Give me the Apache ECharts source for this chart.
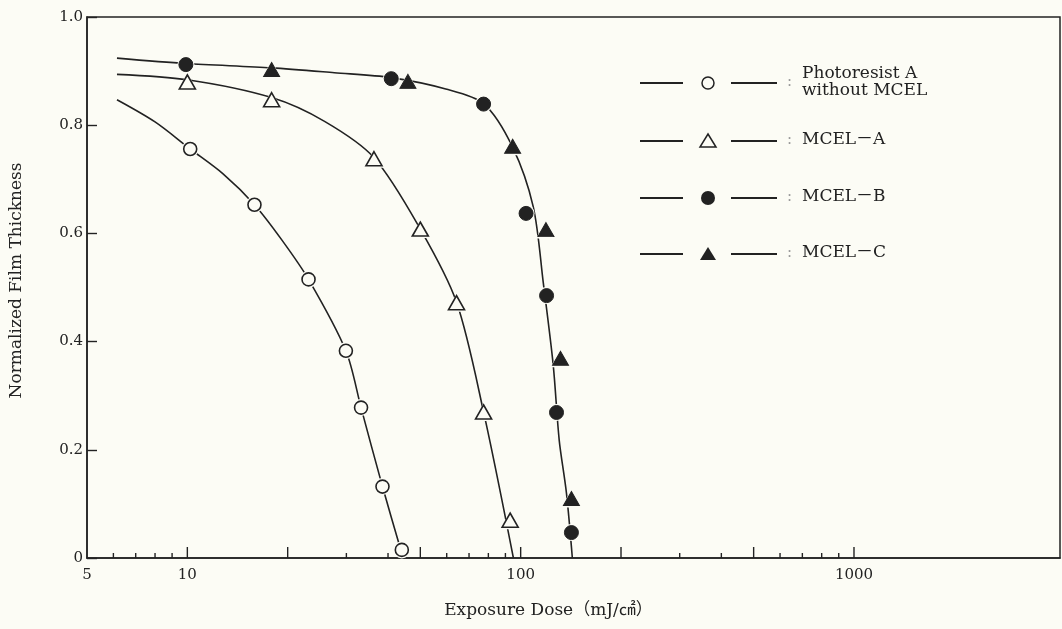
<!DOCTYPE html>
<html>
<head>
<meta charset="utf-8">
<title>Normalized Film Thickness vs Exposure Dose</title>
<script src="https://cdn.jsdelivr.net/npm/echarts@6/dist/echarts.min.js"></script>
<style>
  html, body { margin: 0; padding: 0; background: #fcfcf5; }
  #chart { width: 1062px; height: 629px; }
</style>
</head>
<body>
<div id="chart"></div>
<script>
// Series names as shown in the key
const seriesNames = ['Photoresist A\nwithout MCEL', 'MCEL－A', 'MCEL－B', 'MCEL－C'];

// Measured points: [exposure dose (mJ/cm2), normalized film thickness]
const resistA = [[10.2, 0.756], [15.9, 0.653], [23.1, 0.515], [29.9, 0.383], [33.2, 0.278], [38.5, 0.132], [44.0, 0.015]];
const mcelA   = [[10.0, 0.880], [17.9, 0.847], [36.3, 0.738], [50.0, 0.608], [64.2, 0.472], [77.4, 0.270], [93.0, 0.070]];
const mcelB   = [[9.9, 0.912], [40.9, 0.886], [77.4, 0.839], [103.8, 0.637], [119.6, 0.485], [128.1, 0.269], [142.0, 0.047]];
const mcelC   = [[17.9, 0.903], [45.9, 0.881], [94.6, 0.761], [119.1, 0.607], [131.7, 0.369], [142.0, 0.110]];

// Drawn characteristic curves
const curveResistA = [[6.15, 0.847], [8.0, 0.806], [10.2, 0.756], [12.8, 0.710], [15.9, 0.653], [19.2, 0.588], [23.1, 0.515],
                      [29.9, 0.383], [33.2, 0.278], [38.5, 0.132], [44.4, 0]];
const curveMcelA   = [[6.15, 0.894], [10.0, 0.884], [17.9, 0.851], [25.8, 0.807], [36.3, 0.740], [50.0, 0.608], [64.2, 0.473],
                      [77.4, 0.270], [95.1, 0]];
const curveMcelBC  = [[6.15, 0.924], [9.9, 0.914], [17.9, 0.906], [27.6, 0.897], [40.8, 0.888], [59.6, 0.867], [77.4, 0.840],
                      [94.5, 0.760], [109.1, 0.649], [116.9, 0.509], [125.2, 0.357], [130.5, 0.218], [137.2, 0.120], [142.9, 0]];

// Axis ticks and labels
const xTickLabels = [5, 10, 100, 1000];
const xMajorTicks = [10, 20, 50, 100, 200, 500, 1000];
const xMinorTicks = [6, 7, 8, 9, 30, 40, 60, 70, 80, 90, 300, 400, 600, 700, 800, 900];
const yTickLabels = ['0', '0.2', '0.4', '0.6', '0.8', '1.0'];

const INK = '#222222';
const BG = '#fcfcf5';
const FONT = '"DejaVu Serif", "Liberation Serif", "Noto Sans CJK JP", serif';

const chart = echarts.init(document.getElementById('chart'), null, { renderer: 'canvas' });

function curve(data) {
  return {
    type: 'line', data: data, smooth: 0.3, showSymbol: false, symbol: 'none',
    lineStyle: { color: INK, width: 1.6 }, silent: true, z: 2
  };
}
function halo(data, symbol, size) {
  return {
    type: 'scatter', data: data, symbol: symbol, symbolSize: size, clip: false, silent: true,
    itemStyle: { color: BG, borderWidth: 0, opacity: 1 }, z: 3
  };
}
function marks(name, data, symbol, size, filled) {
  return {
    name: name, type: 'scatter', data: data, symbol: symbol, symbolSize: size, clip: false, silent: true,
    itemStyle: filled ? { color: INK, borderColor: INK, borderWidth: 1, opacity: 1 }
                      : { color: BG, borderColor: INK, borderWidth: 1.6, opacity: 1 },
    z: 4
  };
}
function ticks(values, len) {
  return {
    type: 'scatter', data: values.map(v => [v, 0]), symbol: 'rect', symbolSize: [1.4, len],
    symbolOffset: [0, -len / 2], clip: false, silent: true, itemStyle: { color: INK, opacity: 1 }, z: 5
  };
}

// Key: line — symbol — line : text
function keySymbol(kind, cx, cy) {
  if (kind === 'openCircle' || kind === 'circle') {
    return { type: 'circle', shape: { cx: cx, cy: cy, r: kind === 'circle' ? 7 : 6 },
             style: kind === 'circle' ? { fill: INK } : { fill: BG, stroke: INK, lineWidth: 1.5 } };
  }
  return { type: 'polygon', shape: { points: [[cx, cy - 7], [cx + 8, cy + 6], [cx - 8, cy + 6]] },
           style: kind === 'triangle' ? { fill: INK } : { fill: BG, stroke: INK, lineWidth: 1.5 } };
}
const keyRows = [
  { name: seriesNames[0], kind: 'openCircle', y: 83 },
  { name: seriesNames[1], kind: 'openTriangle', y: 141 },
  { name: seriesNames[2], kind: 'circle', y: 198 },
  { name: seriesNames[3], kind: 'triangle', y: 254 }
];
const keyGraphics = [];
keyRows.forEach(r => {
  keyGraphics.push({ type: 'line', shape: { x1: 640, y1: r.y, x2: 683, y2: r.y }, style: { stroke: INK, lineWidth: 1.8 } });
  keyGraphics.push(keySymbol(r.kind, 708, r.y));
  keyGraphics.push({ type: 'line', shape: { x1: 731, y1: r.y, x2: 777, y2: r.y }, style: { stroke: INK, lineWidth: 1.8 } });
  keyGraphics.push({ type: 'text', x: 787, y: r.y - 1, style: { text: ':', fill: '#999', font: '15px ' + FONT, verticalAlign: 'middle' } });
  keyGraphics.push({ type: 'text', x: 802, y: r.y - 1, style: { text: r.name, fill: INK, font: '17px ' + FONT,
                     verticalAlign: 'middle', lineHeight: 17 } });
});

chart.setOption({
  backgroundColor: BG,
  animation: false,
  textStyle: { fontFamily: FONT },
  grid: { left: 83, right: 2, top: 17, bottom: 71, show: true, borderColor: INK, borderWidth: 1.5, containLabel: false },
  xAxis: {
    type: 'log', logBase: 10, min: 5, max: 4150,
    name: 'Exposure Dose（mJ/㎠）', nameLocation: 'middle', nameGap: 44,
    nameTextStyle: { color: INK, fontSize: 17, fontFamily: FONT, padding: [0, 50, 0, 0] },
    axisLine: { show: true, lineStyle: { color: INK, width: 1.5 } },
    axisTick: { show: false },
    splitLine: { show: false },
    axisLabel: {
      color: INK, fontSize: 15, fontFamily: FONT, margin: 10, showMinLabel: true, showMaxLabel: false,
      formatter: v => (xTickLabels.some(t => Math.abs(t - v) < 1e-6 * t) ? String(Math.round(v)) : '')
    }
  },
  yAxis: {
    type: 'value', min: 0, max: 1, interval: 0.2,
    name: 'Normalized Film Thickness', nameLocation: 'middle', nameGap: 62,
    nameTextStyle: { color: INK, fontSize: 17, fontFamily: FONT, padding: [0, 0, 0, 14] },
    axisLine: { show: true, lineStyle: { color: INK, width: 1.5 } },
    axisTick: { show: true, inside: true, length: 10, lineStyle: { color: INK, width: 1.4 } },
    splitLine: { show: false },
    axisLabel: { color: INK, fontSize: 15, fontFamily: FONT, margin: 4,
                 formatter: v => yTickLabels[Math.round(v * 5)] }
  },
  graphic: keyGraphics,
  series: [
    curve(curveResistA),
    curve(curveMcelA),
    curve(curveMcelBC),
    halo(resistA, 'circle', 17),
    halo(mcelA, 'triangle', [20, 18]),
    halo(mcelB, 'circle', 17),
    halo(mcelC, 'triangle', [20, 18]),
    marks(seriesNames[0], resistA, 'circle', 13, false),
    marks(seriesNames[1], mcelA, 'triangle', [16, 14], false),
    marks(seriesNames[2], mcelB, 'circle', 14, true),
    marks(seriesNames[3], mcelC, 'triangle', [16, 14], true),
    ticks(xMajorTicks, 11),
    ticks(xMinorTicks, 5)
  ]
});
</script>
</body>
</html>
